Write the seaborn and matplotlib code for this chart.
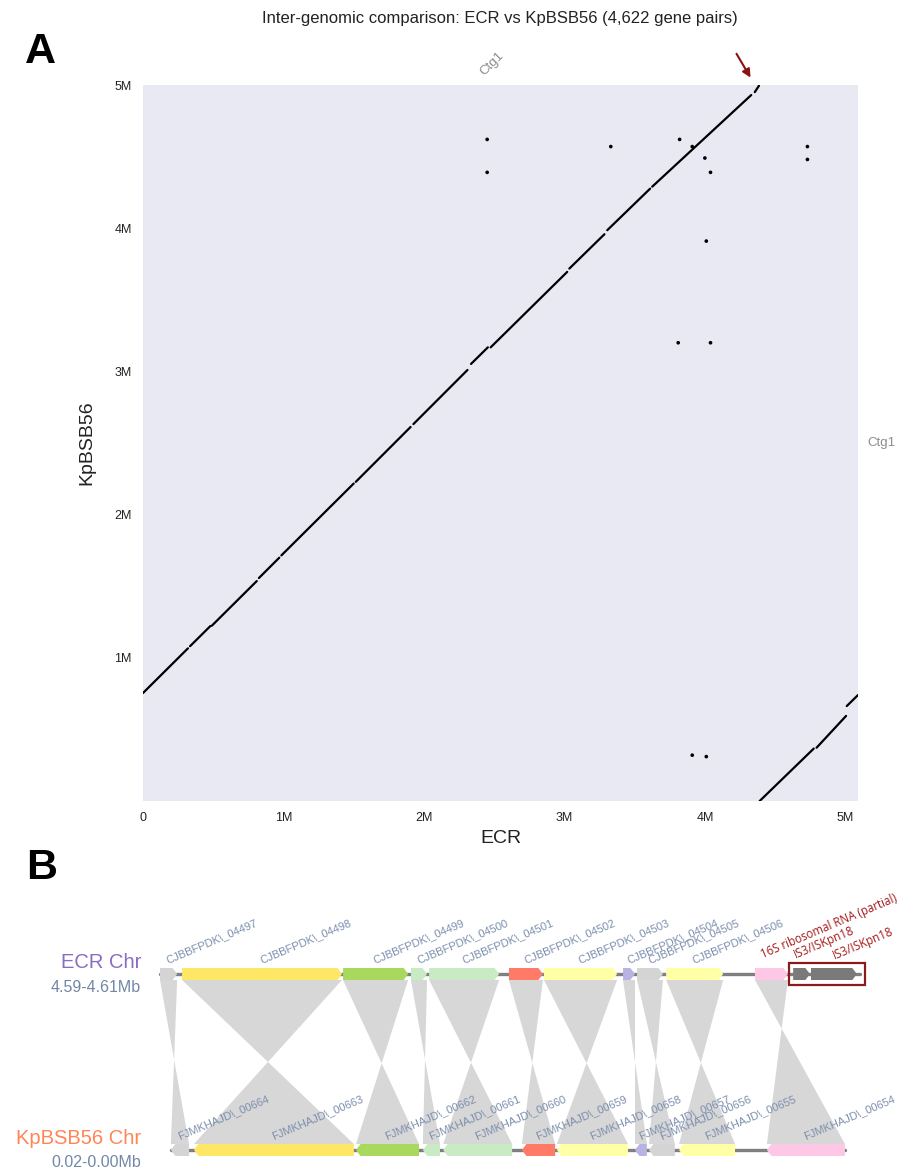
import numpy as np
import pandas as pd
import matplotlib
matplotlib.use("Agg")
import matplotlib.pyplot as plt
from matplotlib.patches import Polygon, Rectangle
import seaborn as sns

# ---------------- Panel A data (Mb) ----------------
TITLE = "Inter-genomic comparison: ECR vs KpBSB56 (4,622 gene pairs)"
X_LABEL = "ECR"
Y_LABEL = "KpBSB56"
CONTIG = "Ctg1"

# collinear blocks: ECR start/end, KpBSB56 start/end
blk_ecr_start = [0.00, 0.335, 0.49, 0.825, 0.985, 1.515, 1.925, 2.335, 2.475, 3.035, 3.305, 3.625, 4.355,
                 4.39, 4.795, 5.01]
blk_ecr_end   = [0.32, 0.48, 0.81, 0.97, 1.50, 1.905, 2.31, 2.455, 3.02, 3.285, 3.61, 4.33, 4.385,
                 4.775, 5.005, 5.09]
blk_kp_start  = [0.754, 1.081, 1.224, 1.557, 1.715, 2.229, 2.632, 3.052, 3.168, 3.718, 3.986, 4.290, 4.950,
                 0.000, 0.372, 0.663]
blk_kp_end    = [1.066, 1.222, 1.536, 1.699, 2.217, 2.612, 3.010, 3.168, 3.695, 3.958, 4.276, 4.930, 4.995,
                 0.366, 0.594, 0.740]

# isolated gene pairs
pt_ecr = [2.45, 2.45, 3.33, 3.82, 3.91, 4.00, 4.04, 4.01, 3.81, 4.04, 4.73, 4.73, 3.91, 4.01]
pt_kp  = [4.62, 4.39, 4.57, 4.62, 4.57, 4.49, 4.39, 3.91, 3.20, 3.20, 4.57, 4.48, 0.32, 0.31]

x_ticks = [0, 1, 2, 3, 4, 5]
x_tick_labels = ["0", "1M", "2M", "3M", "4M", "5M"]
y_ticks = [1, 2, 3, 4, 5]
y_tick_labels = ["1M", "2M", "3M", "4M", "5M"]
ecr_len_mb = 5.09
kp_len_mb = 5.00

# ---------------- Panel B data (kb) ----------------
ecr_track_label = "ECR Chr"
ecr_range_label = "4.59-4.61Mb"
kp_track_label = "KpBSB56 Chr"
kp_range_label = "0.02-0.00Mb"

ecr_names = ["CJBBFPDK\\_04497", "CJBBFPDK\\_04498", "CJBBFPDK\\_04499", "CJBBFPDK\\_04500",
             "CJBBFPDK\\_04501", "CJBBFPDK\\_04502", "CJBBFPDK\\_04503", "CJBBFPDK\\_04504",
             "CJBBFPDK\\_04505", "CJBBFPDK\\_04506", "16S ribosomal RNA (partial)",
             "IS3/ISKpn18", "IS3/ISKpn18"]
ecr_start = [4590.00, 4590.63, 4595.23, 4597.17, 4597.69, 4599.97, 4600.97, 4603.23,
             4603.63, 4604.46, 4607.00, 4608.09, 4608.60]
ecr_end   = [4590.49, 4595.20, 4597.09, 4597.63, 4599.69, 4600.94, 4603.06, 4603.57,
             4604.37, 4606.09, 4607.94, 4608.57, 4609.91]
ecr_colors = ["#D4D4D4", "#FFE766", "#A8D95C", "#C8EBC3", "#C8EBC3", "#FF7B67", "#FFFFA6",
              "#B9B3E3", "#D4D4D4", "#FFFFA6", "#FFC7E6", "#7A7A7A", "#7A7A7A"]
ecr_highlight = [False] * 10 + [True, True, True]
ecr_locus = (4590.00, 4609.99)

kp_names = ["FJMKHAJD\\_00664", "FJMKHAJD\\_00663", "FJMKHAJD\\_00662", "FJMKHAJD\\_00661",
            "FJMKHAJD\\_00660", "FJMKHAJD\\_00659", "FJMKHAJD\\_00658", "FJMKHAJD\\_00657",
            "FJMKHAJD\\_00656", "FJMKHAJD\\_00655", "FJMKHAJD\\_00654"]
kp_start = [19.17, 14.46, 12.60, 12.00, 9.94, 8.71, 6.63, 6.09, 5.29, 3.57, 0.43]
kp_end   = [19.69, 19.03, 14.40, 12.49, 11.91, 9.66, 8.66, 6.43, 6.03, 5.17, 2.66]
kp_colors = ["#D4D4D4", "#FFE766", "#A8D95C", "#C8EBC3", "#C8EBC3", "#FF7B67", "#FFFFA6",
             "#B9B3E3", "#D4D4D4", "#FFFFA6", "#FFC7E6"]
kp_locus = (0.43, 19.69)

# ortholog links: ECR gene index -> KpBSB56 gene index
link_ecr = [0, 1, 2, 3, 4, 5, 6, 7, 8, 9, 10]
link_kp  = [0, 1, 2, 3, 4, 5, 6, 7, 8, 9, 10]

# ---------------- Style ----------------
sns.set_style("dark")
plt.rcParams['font.family'] = ['Liberation Sans', 'DejaVu Sans']

fig = plt.figure(figsize=(9.07, 11.72), dpi=100)
FW, FH = 907, 1172

# ---------------- Panel A ----------------
axA = fig.add_axes([143 / FW, 1 - 801 / FH, 715 / FW, 716 / FH])
axA.set_facecolor("#E9E9F3")

blocks = pd.DataFrame({
    "block": list(range(len(blk_ecr_start))) * 2,
    "ecr": blk_ecr_start + blk_ecr_end,
    "kp": blk_kp_start + blk_kp_end,
})
sns.lineplot(data=blocks, x="ecr", y="kp", units="block", estimator=None, sort=False,
             color="black", lw=1.6, ax=axA, legend=False)
pts = pd.DataFrame({"ecr": pt_ecr, "kp": pt_kp})
sns.scatterplot(data=pts, x="ecr", y="kp", color="black", s=7, edgecolor="none", ax=axA)

axA.set_xlim(0, ecr_len_mb)
axA.set_ylim(0, kp_len_mb)
axA.set_xticks(x_ticks)
axA.set_xticklabels(x_tick_labels)
axA.set_yticks(y_ticks)
axA.set_yticklabels(y_tick_labels)
axA.tick_params(axis="both", labelsize=9, colors="#222222", length=0, pad=8)
axA.set_xlabel(X_LABEL, fontsize=14, color="#222222", labelpad=4)
axA.set_ylabel(Y_LABEL, fontsize=14, color="#222222", labelpad=14)
for s in axA.spines.values():
    s.set_visible(False)

axA.text(ecr_len_mb / 2 - 0.06, 1.01, CONTIG, transform=axA.get_xaxis_transform(),
         rotation=45, ha="center", va="bottom", fontsize=9.5, color="#8C8C8C")
axA.text(1.013, kp_len_mb / 2, CONTIG, transform=axA.get_yaxis_transform(),
         ha="left", va="center", fontsize=9.5, color="#8C8C8C")

axA.annotate("", xy=(4.335, 5.035), xytext=(4.215, 5.235), xycoords="data",
             arrowprops=dict(arrowstyle="-|>", color="#8B1212", lw=1.5, mutation_scale=12),
             annotation_clip=False)

fig.text(500 / FW, 1 - 18 / FH, TITLE, ha="center", va="center", fontsize=12, color="#222222")
fig.text(40 / FW, 1 - 52 / FH, "A", ha="center", va="center", fontsize=31,
         fontweight="bold", color="black")
fig.text(42 / FW, 1 - 868 / FH, "B", ha="center", va="center", fontsize=31,
         fontweight="bold", color="black")

# ---------------- Panel B ----------------
axB = fig.add_axes([0, 0, 1, 322 / FH])
axB.set_axis_off()
PX_PER_KB = 35.0
X0 = 160.0
axB.set_xlim(-X0 / PX_PER_KB, (FW - X0) / PX_PER_KB)
axB.set_ylim(FH, FH - 322)

TOP_Y, BOT_Y, HH = 974, 1150, 6
ARROW_H = 0.13

def u_top(kb):
    return kb - ecr_locus[0]

def u_bot(kb):
    return 20.0 - kb

def gene_poly(a, b, y, direction):
    # a < b in display units; direction +1 points right, -1 points left
    h = min(ARROW_H, (b - a) * 0.5)
    if direction > 0:
        pts_ = [(a, y - HH), (b - h, y - HH), (b, y), (b - h, y + HH), (a, y + HH)]
    else:
        pts_ = [(a + h, y - HH), (b, y - HH), (b, y + HH), (a + h, y + HH), (a, y)]
    return pts_

# links
for i, j in zip(link_ecr, link_kp):
    tl, tr = u_top(ecr_start[i]), u_top(ecr_end[i])
    bl, br = sorted([u_bot(kp_start[j]), u_bot(kp_end[j])])
    poly = Polygon([(tl, TOP_Y + HH), (tr, TOP_Y + HH), (bl, BOT_Y - HH), (br, BOT_Y - HH)],
                   closed=True, facecolor="#CDCDCD", edgecolor="none", alpha=0.8, zorder=1)
    axB.add_patch(poly)

# backbones
axB.plot([u_top(ecr_locus[0]), u_top(ecr_locus[1])], [TOP_Y, TOP_Y], color="#7F7F7F",
         lw=2.4, zorder=2, solid_capstyle="round")
axB.plot([u_bot(kp_locus[1]), u_bot(kp_locus[0])], [BOT_Y, BOT_Y], color="#7F7F7F",
         lw=2.4, zorder=2, solid_capstyle="round")

# genes top
for k in range(len(ecr_names)):
    a, b = u_top(ecr_start[k]), u_top(ecr_end[k])
    axB.add_patch(Polygon(gene_poly(a, b, TOP_Y, +1), closed=True,
                          facecolor=ecr_colors[k], edgecolor="none", zorder=3))
    c = (a + b) / 2
    if ecr_highlight[k]:
        continue
    axB.text(c, TOP_Y - 9, ecr_names[k], rotation=23, rotation_mode="anchor",
             ha="left", va="bottom", fontsize=8, color="#7B8EAD", zorder=4)

# genes bottom
for k in range(len(kp_names)):
    a, b = sorted([u_bot(kp_start[k]), u_bot(kp_end[k])])
    axB.add_patch(Polygon(gene_poly(a, b, BOT_Y, -1), closed=True,
                          facecolor=kp_colors[k], edgecolor="none", zorder=3))
    c = (a + b) / 2
    axB.text(c, BOT_Y - 9, kp_names[k], rotation=23, rotation_mode="anchor",
             ha="left", va="bottom", fontsize=8, color="#7B8EAD", zorder=4)

# highlighted labels (red): small offsets from gene centre (kb) and height above track (px)
hl_idx = [k for k in range(len(ecr_names)) if ecr_highlight[k]]
hl_dx = [-0.2, -0.13, 0.06]
hl_dy = [13, 13, 12]
for k, dx, dy in zip(hl_idx, hl_dx, hl_dy):
    c = (u_top(ecr_start[k]) + u_top(ecr_end[k])) / 2
    axB.text(c + dx, TOP_Y - dy, ecr_names[k], rotation=23, rotation_mode="anchor",
             ha="left", va="bottom", fontsize=8.3, color="#A31818", zorder=4,
             family=["Open Sans", "DejaVu Sans"])

# box around IS elements
bx0 = u_top(ecr_start[hl_idx[1]]) - 0.12
bx1 = u_top(ecr_end[hl_idx[2]]) + 0.23
axB.add_patch(Rectangle((bx0, TOP_Y - 11), bx1 - bx0, 22, facecolor="none",
                        edgecolor="#8B1A1A", lw=1.6, zorder=5))

# track labels
lx = (141 - X0) / PX_PER_KB
axB.text(lx, TOP_Y - 6, ecr_track_label, ha="right", va="baseline", fontsize=14.5, color="#8A6CC4")
axB.text(lx, TOP_Y + 18, ecr_range_label, ha="right", va="baseline", fontsize=11.5, color="#7287A6")
axB.text(lx, BOT_Y - 6, kp_track_label, ha="right", va="baseline", fontsize=14.5, color="#FF8557")
axB.text(lx, BOT_Y + 17, kp_range_label, ha="right", va="baseline", fontsize=11.5, color="#7287A6")

fig.savefig("out.png", dpi=100, facecolor="white")
